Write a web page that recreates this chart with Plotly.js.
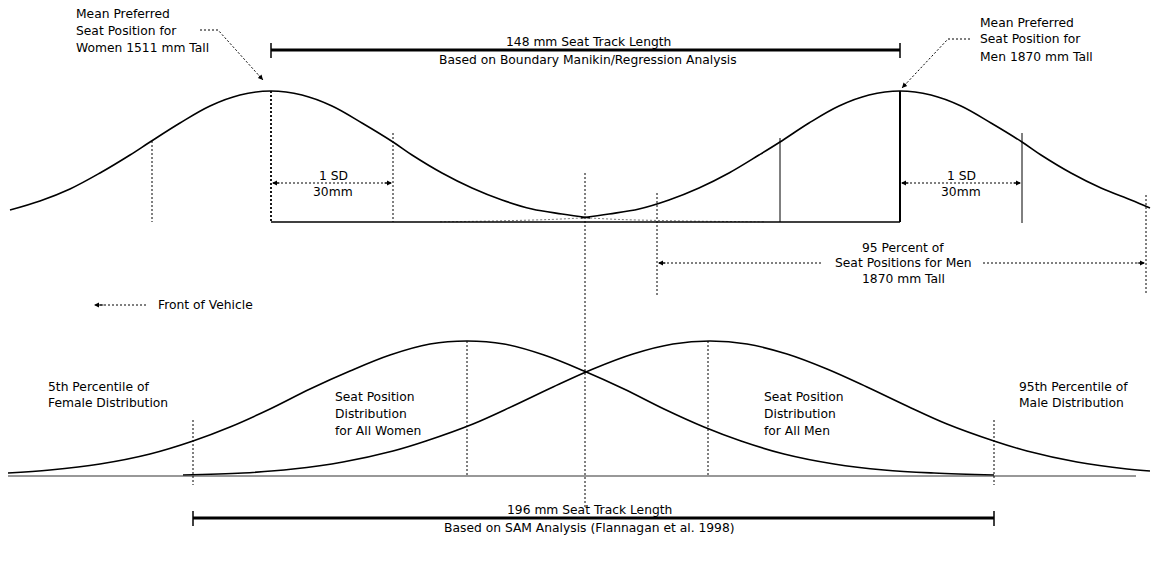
<!DOCTYPE html>
<html>
<head>
<meta charset="utf-8">
<script src="https://cdn.plot.ly/plotly-3.0.1.min.js"></script>
<style>html,body{margin:0;padding:0;background:#fff;}#chart{width:1154px;height:565px;}</style>
</head>
<body>
<div id="chart"></div>
<script>
// ---- Curves (diagram pixel units) ----
const topWomenX = [10,40,70,100,130,150,180,210,240,271,302,332,362,393,412,442,472,502,532,562,590];
const topWomenY = [210,201,189,173,155,142,123,106,95,91,95,106,123,142,155,173,188,200,209,214,218];
const topMenX   = [581,609,639,669,699,729,759,780,809,839,869,900,931,961,991,1022,1041,1071,1101,1131,1150];
const topMenY   = [218,214,209,200,188,173,155,142,123,106,95,91,95,106,123,142,155,173,188,200,208];
const topWomenTailX = [590,620,660,700,740,765];
const topWomenTailY = [218,219.5,220.5,221.2,221.6,221.8];
const topMenTailX = [440,470,510,550,581];
const topMenTailY = [221.8,221.4,220.6,219.5,218];

const botWomenX = [8,50,100,150,193,230,270,310,350,390,430,467,504,544,584,624,664,704,741,784,834,884,934,994];
const botWomenY = [473,470,464,454,441,427,409,389,371,355,344,341,344,355,371,389,409,427,441,454,464,470,473,475];
const botMenX   = [183,243,293,343,393,426,473,513,553,593,633,673,710,747,787,827,867,907,947,994,1027,1077,1127,1150];
const botMenY   = [475,473,469,462,451,441,424,406,387,369,354,344,341,344,354,369,387,406,424,441,451,462,469,471];

// ---- Reference lines ----
const baseTop = {x0:271, x1:900, y:222};
const baseBot = {x0:8, x1:1136, y:476};
const dottedVX  = [152,271,393,585,657,1146,193,467,708,994];
const dottedVY0 = [141,91,133,173,193,195,420,341,341,420];
const dottedVY1 = [222,222,222,508,295,293,485,476,476,485];
const dottedVW  = [1,1.8,1,1,1,1,1,1,1,1];
const solidVX  = [780,900,1022];
const solidVY0 = [138,91,133];
const solidVY1 = [222,222,223];
const solidVW  = [1,2,1];

// ---- Track-length bars ----
const barX0 = [271,193];
const barX1 = [900,994];
const barY  = [50,518];
const barTextX = [588,589];
const barTitle = ["148 mm Seat Track Length","196 mm Seat Track Length"];
const barSub   = ["Based on Boundary Manikin/Regression Analysis","Based on SAM Analysis (Flannagan et al. 1998)"];

// ---- Dotted arrows (shafts) ----
const shaftX = [[273,391],[902,1020],[659,823],[983,1144],[100,146],[200,218,263],[970,948,902]];
const shaftY = [[183,183],[183,183],[263,263],[263,263],[305,305],[30,30,80],[39,39,88]];
// arrowheads: tip and a point back along the shaft
const tipX  = [272,392,901,1021,658,1145,94,263,902];
const tipY  = [183,183,183,183,263,263,305,80,88];
const tailX = [281,383,910,1012,667,1136,105,257.6,907.5];
const tailY = [183,183,183,183,263,263,305,74,82];

// ---- Labels ----
const labelText = [
  "Mean Preferred","Seat Position for","Women 1511 mm Tall",
  "Mean Preferred","Seat Position for","Men 1870 mm Tall",
  "1 SD","30mm","1 SD","30mm",
  "95 Percent of","Seat Positions for Men","1870 mm Tall",
  "Front of Vehicle",
  "5th Percentile of","Female Distribution",
  "Seat Position","Distribution","for All Women",
  "Seat Position","Distribution","for All Men",
  "95th Percentile of","Male Distribution"
];
const labelX = [74,74,74, 978,978,978, 333,333,961,961, 903,903,903, 156, 46,46, 333,333,333, 762,762,762, 1017,1017];
const labelY = [14,31,48, 23,39,57, 176,192,176,192, 248,263,279, 305, 387,403, 397,414,431, 397,414,431, 387,403];
const labelAnchor = ["left","left","left","left","left","left","center","center","center","center","center","center","center","left","left","left","left","left","left","left","left","left","left","left"];

const FONT = {family:"DejaVu Sans, Liberation Sans, sans-serif", size:12.3, color:"#000"};
const DOT = "2px,2px";
const traces = [];
function line(x, y, w, dash, color, shape){
  traces.push({type:"scatter", mode:"lines", x:x, y:y, hoverinfo:"skip", showlegend:false,
    line:{color:color||"#000", width:w, dash:dash||"solid", shape:shape||"linear"}});
}
// curves
line(topWomenX, topWomenY, 1.6, "solid", "#000", "spline");
line(topMenX, topMenY, 1.6, "solid", "#000", "spline");
line(topWomenTailX, topWomenTailY, 1, DOT, "#777", "spline");
line(topMenTailX, topMenTailY, 1, DOT, "#777", "spline");
line(botWomenX, botWomenY, 1.6, "solid", "#000", "spline");
line(botMenX, botMenY, 1.6, "solid", "#000", "spline");
// baselines
line([baseTop.x0, baseTop.x1], [baseTop.y, baseTop.y], 1.5);
line([baseBot.x0, baseBot.x1], [baseBot.y, baseBot.y], 1.2, "solid", "#333");
// vertical lines
dottedVX.forEach((x,i)=>line([x,x],[dottedVY0[i],dottedVY1[i]], dottedVW[i], DOT));
solidVX.forEach((x,i)=>line([x,x],[solidVY0[i],solidVY1[i]], solidVW[i]));
// bars
barX0.forEach((x0,i)=>{
  line([x0, barX1[i]],[barY[i],barY[i]], 3);
  line([x0,x0],[barY[i]-7,barY[i]+8], 1.5);
  line([barX1[i],barX1[i]],[barY[i]-7,barY[i]+8], 1.5);
});
// arrow shafts
shaftX.forEach((xs,i)=>line(xs, shaftY[i], 1, DOT));

const annotations = [];
labelText.forEach((t,i)=>annotations.push({x:labelX[i], y:labelY[i], xref:"x", yref:"y", text:t,
  showarrow:false, xanchor:labelAnchor[i], yanchor:"middle", font:FONT}));
barX0.forEach((x0,i)=>{
  annotations.push({x:barTextX[i], y:barY[i]-8, xref:"x", yref:"y", text:barTitle[i], showarrow:false, xanchor:"center", yanchor:"middle", font:FONT});
  annotations.push({x:barTextX[i], y:barY[i]+10, xref:"x", yref:"y", text:barSub[i], showarrow:false, xanchor:"center", yanchor:"middle", font:FONT});
});
tipX.forEach((x,i)=>annotations.push({x:x, y:tipY[i], ax:tailX[i], ay:tailY[i], xref:"x", yref:"y", axref:"x", ayref:"y",
  text:"", showarrow:true, arrowhead:2, arrowsize:1, arrowwidth:1, arrowcolor:"#000", standoff:0}));

const layout = {
  width:1154, height:565, margin:{l:0,r:0,t:0,b:0},
  paper_bgcolor:"#fff", plot_bgcolor:"#fff", showlegend:false,
  xaxis:{range:[0,1154], visible:false, fixedrange:true},
  yaxis:{range:[565,0], visible:false, fixedrange:true},
  annotations:annotations
};
Plotly.newPlot("chart", traces, layout, {staticPlot:true, displayModeBar:false});
</script>
</body>
</html>
